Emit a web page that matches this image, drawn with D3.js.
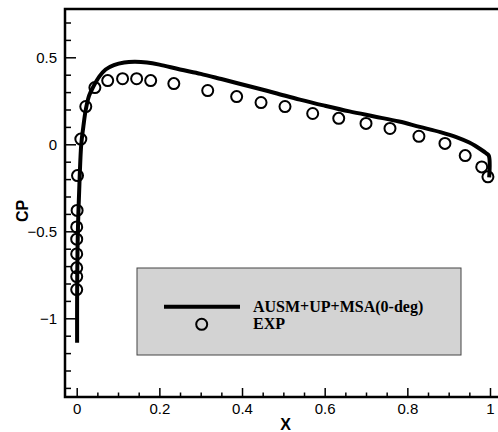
<!DOCTYPE html>
<meta charset="utf-8">
<style>
  body { margin: 0; background: #fff; }
  .tick text { font-family: "Liberation Sans", Arial, sans-serif; font-size: 15px; fill: #000; }
  .tick line { stroke: #000; stroke-width: 1.5; }
  .title { font-family: "Liberation Sans", Arial, sans-serif; font-weight: bold; font-size: 16px; }
  .legendText { font-family: "Liberation Serif", "Times New Roman", serif; font-weight: bold; font-size: 16px; }
</style>
<svg width="498" height="432"></svg>
<script src="https://d3js.org/d3.v7.min.js"></script>
<script>

// computed solution, x vs Cp
var cfdX  = [0.001, 0.001, 0.002, 0.004, 0.007, 0.011, 0.016, 0.022, 0.030, 0.040, 0.055, 0.070, 0.090, 0.115, 0.140, 0.170, 0.200, 0.250, 0.300, 0.350, 0.420, 0.480, 0.540, 0.600, 0.660, 0.720, 0.780, 0.830, 0.880, 0.920, 0.950, 0.965, 0.978, 0.990, 0.997, 0.998];
var cfdCp = [-1.14, -0.90, -0.60, -0.40, -0.20, 0.00, 0.10, 0.20, 0.28, 0.33, 0.39, 0.43, 0.455, 0.47, 0.474, 0.47, 0.458, 0.43, 0.405, 0.375, 0.332, 0.295, 0.257, 0.222, 0.189, 0.160, 0.131, 0.100, 0.070, 0.040, 0.010, -0.010, -0.030, -0.050, -0.065, -0.190];

// experiment
var expX  = [0.000, 0.000, 0.000, 0.000, 0.000, 0.000, 0.001, 0.002, 0.010, 0.022, 0.044, 0.075, 0.111, 0.145, 0.179, 0.235, 0.317, 0.387, 0.446, 0.504, 0.571, 0.634, 0.700, 0.758, 0.828, 0.891, 0.940, 0.980, 0.995];
var expCp = [-0.835, -0.76, -0.71, -0.63, -0.545, -0.475, -0.38, -0.18, 0.03, 0.217, 0.326, 0.366, 0.377, 0.377, 0.366, 0.349, 0.309, 0.274, 0.240, 0.217, 0.177, 0.149, 0.120, 0.091, 0.046, 0.005, -0.065, -0.130, -0.187];

var xTicks = [0, 0.2, 0.4, 0.6, 0.8, 1];
var yTicks = [-1, -0.5, 0, 0.5];
var legendLabels = ["AUSM+UP+MSA(0-deg)", "EXP"];

var svg = d3.select("svg"),
    width = +svg.attr("width"),
    height = +svg.attr("height");

var axisLeftX = 65, axisTopY = 9, axisBottomY = 397;

var x = d3.scaleLinear().domain([0, 1]).range([76.7, 490]);
var y = d3.scaleLinear().domain([-1, 0.5]).range([318.3, 57.3]);

var xMinor = d3.range(0, 1.001, 0.05).filter(function(v) { return Math.abs(v * 5 - Math.round(v * 5)) > 1e-6; });
var yMinor = d3.range(-1.4, 0.75, 0.1).filter(function(v) { return Math.abs(v * 2 - Math.round(v * 2)) > 1e-6; });

// minor ticks
svg.append("g")
    .attr("transform", "translate(0," + axisBottomY + ")")
    .call(d3.axisBottom(x).tickValues(xMinor).tickSize(-4.5).tickFormat(""))
    .call(function(g) { g.select(".domain").remove(); });
svg.append("g")
    .attr("transform", "translate(" + axisLeftX + ",0)")
    .call(d3.axisLeft(y).tickValues(yMinor).tickSize(-6).tickFormat(""))
    .call(function(g) { g.select(".domain").remove(); });

// major ticks
svg.append("g")
    .attr("transform", "translate(0," + axisBottomY + ")")
    .call(d3.axisBottom(x).tickValues(xTicks).tickSize(-9).tickPadding(6).tickFormat(d3.format("")))
    .call(function(g) { g.select(".domain").remove(); });
svg.append("g")
    .attr("transform", "translate(" + axisLeftX + ",0)")
    .call(d3.axisLeft(y).tickValues(yTicks).tickSize(-11).tickPadding(8).tickFormat(d3.format("")))
    .call(function(g) { g.select(".domain").remove(); });

// frame
svg.append("path")
    .attr("d", "M" + width + "," + axisTopY + "H" + axisLeftX + "V" + axisBottomY + "H" + width)
    .attr("fill", "none")
    .attr("stroke", "#000")
    .attr("stroke-width", 2.5);

// titles
svg.append("text").attr("class", "title")
    .attr("x", 285.5).attr("y", 430)
    .attr("text-anchor", "middle")
    .text("X");
svg.append("text").attr("class", "title")
    .attr("transform", "translate(28,211) rotate(-90)")
    .attr("text-anchor", "middle")
    .text("CP");

// curve
var cfd = cfdX.map(function(v, i) { return [v, cfdCp[i]]; });
svg.append("path")
    .datum(cfd)
    .attr("d", d3.line().x(function(d) { return x(d[0]); }).y(function(d) { return y(d[1]); }).curve(d3.curveCatmullRom))
    .attr("fill", "none")
    .attr("stroke", "#000")
    .attr("stroke-width", 4);

svg.append("g")
    .selectAll("circle")
    .data(expX)
    .enter().append("circle")
    .attr("cx", function(d) { return x(d); })
    .attr("cy", function(d, i) { return y(expCp[i]); })
    .attr("r", 5.5)
    .attr("fill", "none")
    .attr("stroke", "#000")
    .attr("stroke-width", 2);

// legend
var lg = svg.append("g");
lg.append("rect")
    .attr("x", 137).attr("y", 268)
    .attr("width", 324).attr("height", 87)
    .attr("fill", "#d3d3d3")
    .attr("stroke", "#444")
    .attr("stroke-width", 1);
lg.append("line")
    .attr("x1", 164).attr("x2", 240)
    .attr("y1", 306.7).attr("y2", 306.7)
    .attr("stroke", "#000").attr("stroke-width", 4);
lg.append("circle")
    .attr("cx", 201.7).attr("cy", 324.3).attr("r", 5.5)
    .attr("fill", "none").attr("stroke", "#000").attr("stroke-width", 2);
lg.selectAll("text.legendText")
    .data(legendLabels)
    .enter().append("text")
    .attr("class", "legendText")
    .attr("x", 253)
    .attr("y", function(d, i) { return 311.5 + i * 17.5; })
    .text(function(d) { return d; });

</script>
